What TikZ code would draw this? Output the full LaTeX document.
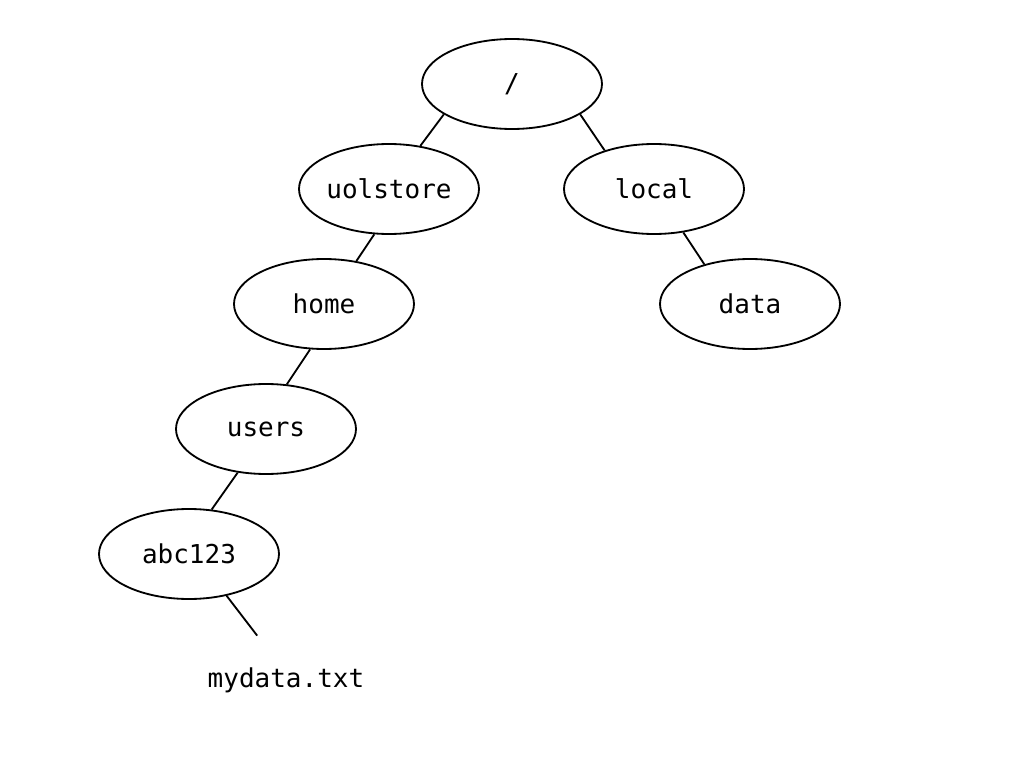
\documentclass[tikz,border=0pt]{standalone}
\usepackage{fontspec}
\setmonofont{DejaVu Sans Mono}
\usepackage{tikz}
\usetikzlibrary{shapes,positioning}

\tikzset{
  dirnode/.style={ellipse, draw=black, line width=1.3pt, minimum width=4.5cm, minimum height=2.25cm,
    inner sep=0pt, font=\ttfamily\fontsize{18.5}{20}\selectfont},
  filenode/.style={dirnode, draw=none},
  link/.style={line width=1.3pt}
}

\begin{document}
\begin{tikzpicture}
        \useasboundingbox (0,0) rectangle (25.6,-19.2);

        % Directories
        \node[dirnode] (root) at (12.8,-2.1) {/};
        \node[dirnode] (uolstore) at (9.725,-4.725) {uolstore};
        \node[dirnode] (local) at (16.35,-4.725) {local};
        \node[dirnode] (home) at (8.1,-7.6) {home};
        \node[dirnode] (data) at (18.75,-7.6) {data};
        \node[dirnode] (users) at (6.65,-10.725) {users};
        \node[dirnode] (abc) at (4.725,-13.85) {abc123};

        % File
        \node[filenode] (mydata) at (7.15,-17.0) {mydata.txt};

        % Links
        \foreach \a/\s/\b/\t in {root/204/uolstore/54, root/336/local/142,
            uolstore/252/home/53, local/304/data/139, home/253/users/65,
            users/237/abc/63, abc/312/mydata/123} {
            \draw[link] (\a.\s) -- (\b.\t);
        }
    \end{tikzpicture}
\end{document}
